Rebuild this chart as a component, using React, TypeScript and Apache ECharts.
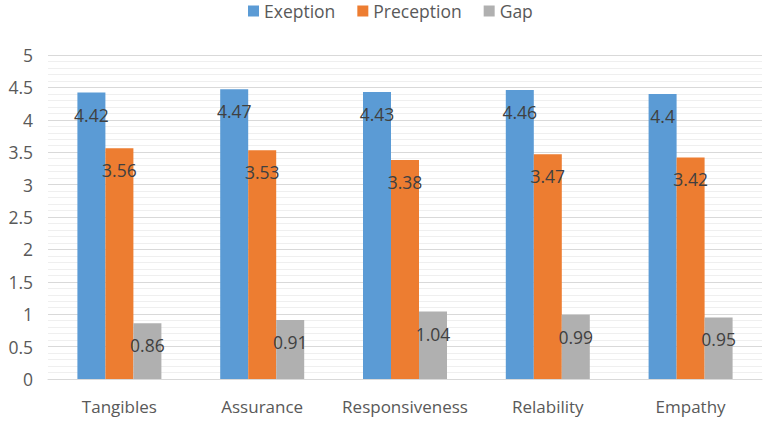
import React, { useEffect, useRef } from "react";
import * as echarts from "echarts";

const categories = ["Tangibles", "Assurance", "Responsiveness", "Relability", "Empathy"];
const exeption = [4.42, 4.47, 4.43, 4.46, 4.4];
const preception = [3.56, 3.53, 3.38, 3.47, 3.42];
const gap = [0.86, 0.91, 1.04, 0.99, 0.95];

const FONT = "'Open Sans', 'Noto Sans', sans-serif";

export default function App() {
  const ref = useRef<HTMLDivElement>(null);
  useEffect(() => {
    document.body.style.margin = "0";
    const chart = echarts.init(ref.current!, null, { renderer: "svg" });
    const label = {
      show: true,
      position: "insideTop",
      distance: 13,
      fontSize: 17.5,
      color: "#404040",
      fontFamily: FONT,
    };
    const mk = (name: string, data: number[], color: string) => ({
      name,
      type: "bar",
      data,
      barWidth: 28,
      barGap: "0%",
      itemStyle: { color },
      label,
    });
    chart.setOption({
      animation: false,
      textStyle: { fontFamily: FONT },
      legend: {
        top: -3,
        left: 243,
        icon: "rect",
        itemWidth: 11,
        itemHeight: 11,
        itemGap: 22,
        textStyle: { fontSize: 17.5, color: "#595959", fontFamily: FONT },
        data: ["Exeption", "Preception", "Gap"],
      },
      grid: { left: 48, right: 3, top: 55, bottom: 42, containLabel: false },
      xAxis: {
        type: "category",
        data: categories,
        axisTick: { show: false },
        axisLine: { lineStyle: { color: "#D9D9D9" } },
        axisLabel: { interval: 0, fontSize: 17, color: "#595959", margin: 19, fontFamily: FONT },
      },
      yAxis: {
        type: "value",
        min: 0,
        max: 5,
        interval: 0.5,
        axisLine: { show: false },
        axisTick: { show: false },
        axisLabel: { fontSize: 17.5, color: "#595959", margin: 15, fontFamily: FONT },
        splitLine: { lineStyle: { color: "#D9D9D9" } },
        minorTick: { show: false, splitNumber: 5 },
        minorSplitLine: { show: true, lineStyle: { color: "#EFEFEF" } },
      },
      series: [
        mk("Exeption", exeption, "#5B9BD5"),
        mk("Preception", preception, "#ED7D31"),
        mk("Gap", gap, "#B0B0B0"),
      ],
    });
    return () => chart.dispose();
  }, []);
  return <div ref={ref} style={{ width: 765, height: 421 }} />;
}
